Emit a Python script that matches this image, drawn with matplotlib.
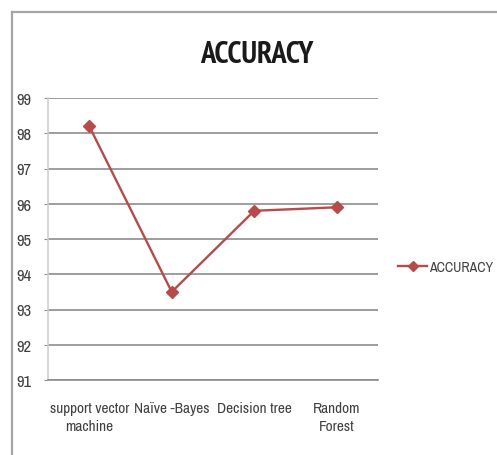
import matplotlib
matplotlib.use("Agg")
import matplotlib.pyplot as plt
from matplotlib.lines import Line2D
from matplotlib import font_manager

categories = ["support vector\nmachine", "Naïve -Bayes", "Decision tree", "Random\nForest"]
accuracy = [98.2, 93.5, 95.8, 95.9]
y_ticks = [91, 92, 93, 94, 95, 96, 97, 98, 99]
series_name = "ACCURACY"


def pick_narrow(weight):
    fonts = font_manager.fontManager.ttflist
    want_bold = weight == "bold"
    def is_bold(f):
        w = f.weight if isinstance(f.weight, int) else (700 if f.weight == "bold" else 400)
        return w >= 600
    for f in fonts:
        if "Narrow" in f.name and f.style == "normal" and is_bold(f) == want_bold:
            return f.fname
    for f in fonts:
        if f.stretch in ("condensed", "semi-condensed") and f.style == "normal" \
                and is_bold(f) == want_bold and ("Sans" in f.name or "Roboto" in f.name):
            return f.fname
    return None


reg_path = pick_narrow("normal")
bold_path = pick_narrow("bold")
if reg_path:
    reg = font_manager.FontProperties(fname=reg_path)
else:
    reg = font_manager.FontProperties(family="Roboto")
if bold_path:
    bold = font_manager.FontProperties(fname=bold_path)
else:
    bold = font_manager.FontProperties(family="Roboto", weight="bold")

W, H = 497, 456
fig = plt.figure(figsize=(W / 100, H / 100), dpi=100)
fig.patch.set_facecolor("white")

# chart frame (top and left border)
fig.add_artist(Line2D([12 / W, 1.0], [1 - 13 / H, 1 - 13 / H], color="#a6a6a6", lw=1.6))
fig.add_artist(Line2D([12 / W, 12 / W], [0.0, 1 - 13 / H], color="#a6a6a6", lw=1.6))

left, right, top, bottom = 48, 378, 99, 381
ax = fig.add_axes([left / W, 1 - bottom / H, (right - left) / W, (bottom - top) / H])

line_color = "#b84a4a"
grid_color = "#8c8c8c"
text_color = "#404040"

x = list(range(len(categories)))
ax.plot(x, accuracy, color=line_color, lw=1.7, marker="D", markersize=6,
        markerfacecolor=line_color, markeredgecolor=line_color, zorder=3)

ax.set_xlim(-0.5, len(categories) - 0.5)
ax.set_ylim(91, 99)
ax.set_yticks(y_ticks)
ax.set_xticks(x)
ax.set_yticklabels([str(v) for v in y_ticks])
ax.set_xticklabels(categories, linespacing=1.4)
for lab in ax.get_yticklabels():
    lab.set_fontproperties(reg)
    lab.set_fontsize(12)
    lab.set_color(text_color)
for lab in ax.get_xticklabels():
    lab.set_fontproperties(reg)
    lab.set_fontsize(11)
    lab.set_color(text_color)
ax.yaxis.grid(True, color=grid_color, lw=1.2)
ax.set_axisbelow(True)

for s in ["top", "right"]:
    ax.spines[s].set_visible(False)
ax.spines["left"].set_color("#d0d0d0")
ax.spines["left"].set_linewidth(1.2)
ax.spines["bottom"].set_color(grid_color)
ax.spines["bottom"].set_linewidth(1.2)
ax.tick_params(axis="y", length=3, color=grid_color, pad=9)
ax.tick_params(axis="x", length=0, pad=15)

title_fp = bold.copy()
title_fp.set_size(22)
fig.text(257 / W, 1 - 55 / H, series_name, ha="center", va="center",
         fontproperties=title_fp, color="#1a1a1a")

legend_fp = reg.copy()
legend_fp.set_size(10)
handle = Line2D([], [], color=line_color, lw=1.7, marker="D", markersize=5,
                markerfacecolor=line_color, markeredgecolor=line_color)
fig.legend([handle], [series_name], loc="center left",
           bbox_to_anchor=(398 / W, 1 - 268 / H), frameon=False,
           prop=legend_fp, handlelength=2.1, handletextpad=0.1,
           labelcolor=text_color, borderaxespad=0, borderpad=0)

fig.savefig("out.png", dpi=100, facecolor="white")
